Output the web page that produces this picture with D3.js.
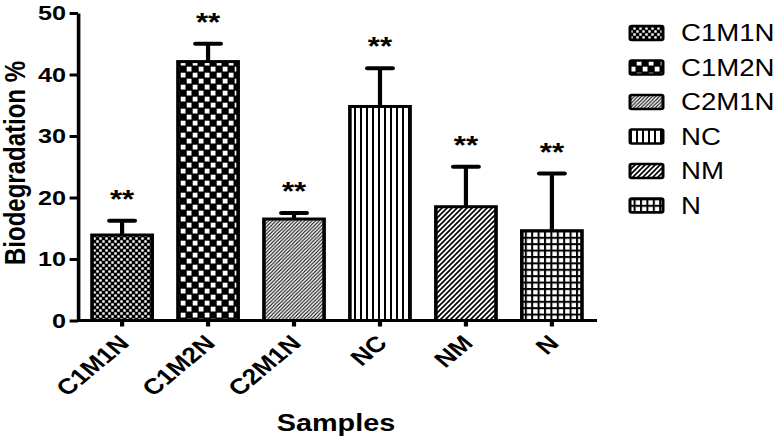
<!DOCTYPE html>
<html><head><meta charset="utf-8">
<script src="https://cdn.jsdelivr.net/npm/d3@7/dist/d3.min.js"></script>
<style>body{margin:0;background:#fff}svg{display:block}text{font-family:Arial,"Liberation Sans",sans-serif;fill:#000}</style>
</head><body><svg id="c" width="774" height="439"></svg>
<script>
const categories = ["C1M1N","C1M2N","C2M1N","NC","NM","N"];
const means = [13.9, 42.1, 16.5, 34.8, 18.5, 14.6];
const errors = [2.3, 2.9, 1.0, 6.2, 6.5, 9.3];
const significance = ["**","**","**","**","**","**"];
const yTicks = [0,10,20,30,40,50];
const legendLabels = ["C1M1N","C1M2N","C2M1N","NC","NM","N"];
const xTitle = "Samples";
const yTitle = "Biodegradation %";

const S = 1.2; // horizontal stretch of the original picture
const svg = d3.select("#c");
svg.append("rect").attr("width",774).attr("height",439).attr("fill","#fff");
const defs = svg.append("defs");
const g = svg.append("g").attr("transform",`scale(${S},1)`);

function pat(id,wp,hp){
  return defs.append("pattern").attr("id",id).attr("patternUnits","userSpaceOnUse")
    .attr("width",wp/S).attr("height",hp);
}
{ // fine checker
  const a=3, p=pat("p0",2*a,2*a);
  p.append("rect").attr("width",2*a/S).attr("height",2*a).attr("fill","#000");
  p.append("rect").attr("x",0.3/S).attr("y",0.3).attr("width",(a-0.6)/S).attr("height",a-0.6).attr("fill","#fff");
  p.append("rect").attr("x",(a+0.3)/S).attr("y",a+0.3).attr("width",(a-0.6)/S).attr("height",a-0.6).attr("fill","#fff");
}
{ // big checker
  const a=6, p=pat("p1",2*a,2*a);
  p.append("rect").attr("width",2*a/S).attr("height",2*a).attr("fill","#000");
  p.append("rect").attr("x",0.7/S).attr("y",0.7).attr("width",(a-1.2)/S).attr("height",a-1.2).attr("fill","#fff");
  p.append("rect").attr("x",(a+0.7)/S).attr("y",a+0.7).attr("width",(a-1.2)/S).attr("height",a-1.2).attr("fill","#fff");
}
function diag(id,per,sw,bg){
  const p=pat(id,per,per), w=per/S, h=per;
  p.append("rect").attr("width",w).attr("height",h).attr("fill",bg);
  p.append("path").attr("d",`M0,${h}L${w},0M${-w/2},${h/2}L${w/2},${-h/2}M${w/2},${1.5*h}L${1.5*w},${h/2}`)
   .attr("stroke","#000").attr("stroke-width",sw);
}
diag("p2",3.6,1.0,"#fff");
{ // vertical lines
  const per=6, p=pat("p3",per,per);
  p.append("rect").attr("width",per/S).attr("height",per).attr("fill","#fff");
  p.append("rect").attr("x",0).attr("width",2/S).attr("height",per).attr("fill","#000");
}
diag("p4",5,1.5,"#fff");
{ // grid
  const per=6.4, p=pat("p5",per,per);
  p.append("rect").attr("width",per/S).attr("height",per).attr("fill","#fff");
  p.append("rect").attr("width",2/S).attr("height",per).attr("fill","#000");
  p.append("rect").attr("width",per/S).attr("height",2).attr("fill","#000");
}

const x = d3.scaleBand().domain(categories).range([78/S, 596/S]).paddingInner(0.3).paddingOuter(0.163);
const y = d3.scaleLinear().domain([0,50]).range([320.5, 13]);
const bw = x.bandwidth();

g.selectAll(".bar").data(categories).join("rect")
  .attr("x",d=>x(d)).attr("y",(d,i)=>y(means[i]))
  .attr("width",bw).attr("height",(d,i)=>y(0)-y(means[i]))
  .attr("fill",(d,i)=>`url(#p${i})`).attr("stroke","#000").attr("stroke-width",3);

g.selectAll(".ev").data(categories).join("line")
  .attr("x1",d=>x(d)+bw/2).attr("x2",d=>x(d)+bw/2)
  .attr("y1",(d,i)=>y(means[i])).attr("y2",(d,i)=>y(means[i]+errors[i]))
  .attr("stroke","#000").attr("stroke-width",3.5);
g.selectAll(".ec").data(categories).join("line")
  .attr("x1",d=>x(d)+bw/2-10.5).attr("x2",d=>x(d)+bw/2+10.5)
  .attr("y1",(d,i)=>y(means[i]+errors[i])).attr("y2",(d,i)=>y(means[i]+errors[i]))
  .attr("stroke","#000").attr("stroke-width",4).attr("stroke-linecap","round");

g.selectAll(".st").data(categories).join("text")
  .attr("x",d=>x(d)+bw/2).attr("y",(d,i)=>y(means[i]+errors[i])-13)
  .attr("text-anchor","middle").attr("font-size",26).attr("font-weight","bold")
  .text((d,i)=>significance[i]);

const ya = g.append("g").attr("transform",`translate(${78/S},0)`)
  .call(d3.axisLeft(y).tickValues(yTicks).tickSize(7).tickSizeOuter(0).tickPadding(3));
ya.select(".domain").attr("stroke","#000").attr("stroke-width",3);
ya.selectAll(".tick line").attr("stroke","#000").attr("stroke-width",3);
ya.selectAll(".tick text").attr("font-size",21).attr("font-weight","bold").attr("font-family","Arial, 'Liberation Sans', sans-serif").attr("fill","#000");

const xa = g.append("g").attr("transform",`translate(0,${y(0)})`)
  .call(d3.axisBottom(x).tickSize(6).tickSizeOuter(0));
xa.select(".domain").attr("stroke","#000").attr("stroke-width",3).attr("d",`M${78/S},0H${597/S}`);
xa.selectAll(".tick line").attr("stroke","#000").attr("stroke-width",3.5);
xa.selectAll(".tick text").attr("font-size",22).attr("font-weight","bold").attr("font-family","Arial, 'Liberation Sans', sans-serif").attr("fill","#000")
  .attr("x",0).attr("y",0).attr("dy",0).attr("text-anchor","end")
  .attr("transform","translate(7,24) rotate(-45)");

g.append("text").attr("x",280).attr("y",431).attr("text-anchor","middle")
  .attr("font-size",24).attr("font-weight","bold").text(xTitle);
g.append("text").attr("transform",`translate(${15/S},163) rotate(-90)`).attr("text-anchor","middle")
  .attr("dominant-baseline","central").attr("font-size",24).attr("font-weight","bold").text(yTitle);

const lg = g.append("g");
legendLabels.forEach((l,i)=>{
  const cy = 33 + i*34.5;
  lg.append("rect").attr("x",630/S).attr("y",cy-7).attr("width",33/S).attr("height",14)
    .attr("rx",1.5).attr("fill",`url(#p${i})`).attr("stroke","#000").attr("stroke-width",2.5);
  lg.append("text").attr("x",681/S).attr("y",cy).attr("dominant-baseline","central")
    .attr("font-size",23).text(l);
});
</script></body></html>
